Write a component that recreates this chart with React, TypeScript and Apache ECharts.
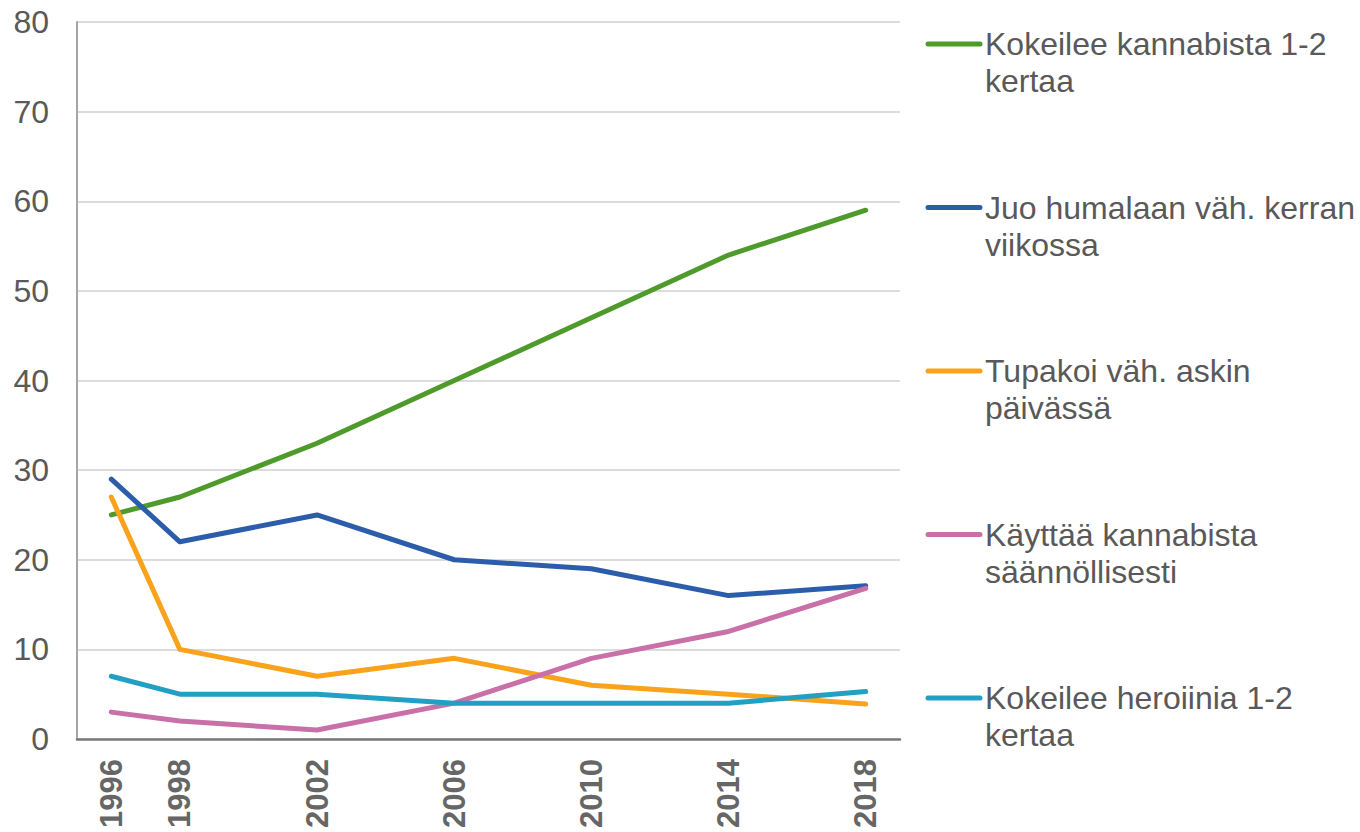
import React, { useEffect, useRef } from "react";
import * as echarts from "echarts";

const years = [1996, 1998, 2002, 2006, 2010, 2014, 2018];
const seriesNames = [
  "Kokeilee kannabista 1-2 kertaa",
  "Juo humalaan väh. kerran viikossa",
  "Tupakoi väh. askin päivässä",
  "Käyttää kannabista säännöllisesti",
  "Kokeilee heroiinia 1-2 kertaa",
];
const cannabisTry = [25, 27, 33, 40, 47, 54, 59];
const drunkWeekly = [29, 22, 25, 20, 19, 16, 17.1];
const smokeDaily = [27, 10, 7, 9, 6, 5, 3.9];
const cannabisRegular = [3, 2, 1, 4, 9, 12, 16.8];
const heroinTry = [7, 5, 5, 4, 4, 4, 5.3];
const seriesValues = [cannabisTry, drunkWeekly, smokeDaily, cannabisRegular, heroinTry];
const colors = ["#4e9a2b", "#2b5dab", "#f8a31b", "#c870a7", "#22a0c4"];
const yTicks = [0, 10, 20, 30, 40, 50, 60, 70, 80];

const FONT = "'Liberation Sans', Arial, sans-serif";
const TEXT = "#595959";
const LEGEND_FONT = `32px ${FONT}`;

function wrapWords(text: string, maxWidth: number): string {
  const ctx = document.createElement("canvas").getContext("2d");
  if (!ctx) return text;
  ctx.font = LEGEND_FONT;
  const words = text.split(" ");
  const lines: string[] = [];
  let cur = "";
  for (const w of words) {
    const test = cur ? cur + " " + w : w;
    if (cur && ctx.measureText(test).width > maxWidth) {
      lines.push(cur);
      cur = w;
    } else {
      cur = test;
    }
  }
  if (cur) lines.push(cur);
  return lines.join("\n");
}

export default function App() {
  const ref = useRef<HTMLDivElement>(null);
  useEffect(() => {
    if (!ref.current) return;
    const chart = echarts.init(ref.current, null, { renderer: "svg" });
    const legendTop = 44;
    const legendGap = 163.5;
    const lineH = 37;
    const graphic: any[] = [];
    seriesNames.forEach((name, i) => {
      const cy = legendTop + i * legendGap;
      graphic.push({
        type: "line",
        shape: { x1: 928, y1: cy, x2: 980, y2: cy },
        style: { stroke: colors[i], lineWidth: 5, lineCap: "round" },
      });
      graphic.push({
        type: "text",
        x: 985,
        y: cy - lineH / 2,
        style: {
          text: wrapWords(name, 376),
          lineHeight: lineH,
          font: LEGEND_FONT,
          fill: TEXT,
          verticalAlign: "top",
          align: "left",
        },
      });
    });
    chart.setOption({
      animation: false,
      grid: { left: 77, top: 22, width: 823, bottom: 93, containLabel: false },
      xAxis: {
        type: "value",
        min: 1995,
        max: 2019,
        axisLine: { show: true, lineStyle: { color: "#7a7a7a", width: 2.5 } },
        axisTick: { show: false },
        splitLine: { show: false },
        axisLabel: {
          customValues: years,
          rotate: 90,
          margin: 20,
          color: "#666666",
          fontWeight: "bold",
          fontSize: 31,
          fontFamily: FONT,
          formatter: (v: number) => String(v),
        },
      },
      yAxis: {
        type: "value",
        min: yTicks[0],
        max: yTicks[yTicks.length - 1],
        interval: 10,
        axisLine: { show: true, lineStyle: { color: "#a6a6a6", width: 2 } },
        axisTick: { show: false },
        splitLine: { show: true, lineStyle: { color: "#d0d0d0", width: 1.5 } },
        axisLabel: {
          margin: 28,
          color: TEXT,
          fontSize: 32,
          fontFamily: FONT,
        },
      },
      series: seriesNames.map((name, i) => ({
        name,
        type: "line",
        data: years.map((y, j) => [y, seriesValues[i][j]]),
        symbol: "none",
        lineStyle: { color: colors[i], width: 5, cap: "round", join: "round" },
        itemStyle: { color: colors[i] },
        z: 2 + i,
      })),
      graphic,
    });
    return () => chart.dispose();
  }, []);
  return (
    <div
      ref={ref}
      style={{ position: "fixed", left: 0, top: 0, width: 1360, height: 832, background: "#fff" }}
    />
  );
}
